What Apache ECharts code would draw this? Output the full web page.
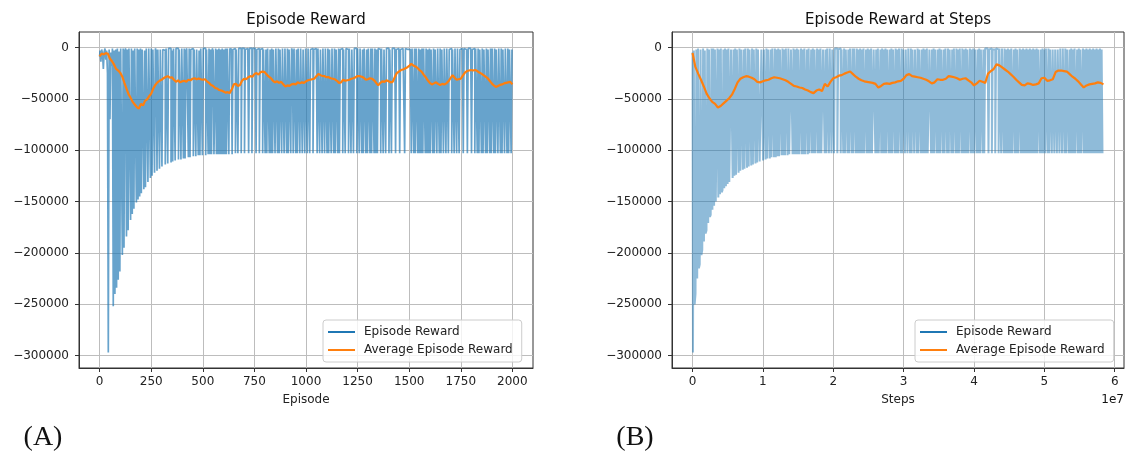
<!DOCTYPE html>
<html>
<head>
<meta charset="utf-8">
<script src="https://cdn.jsdelivr.net/npm/echarts@6/dist/echarts.min.js"></script>
<style>
  html, body { margin: 0; padding: 0; background: #ffffff; }
  #chart { width: 1147px; height: 453px; }
</style>
</head>
<body>
<div id="chart"></div>
<script>
// Rewards are listed in thousands.
const REWARD_UNIT = 1000;
const EPISODES_PER_SAMPLE = 4;       // raw reward samples, panel A
const EPISODES_PER_AVG = 10;         // running average samples, panel A
const STEPS_PER_SAMPLE = 120000;     // raw reward samples, panel B
const STEPS_PER_AVG = 400000;        // running average samples, panel B

const episodeTicks = [0, 250, 500, 750, 1000, 1250, 1500, 1750, 2000];
const stepTicks = [0, 1e7, 2e7, 3e7, 4e7, 5e7, 6e7];
const rewardTicks = [0, -50000, -100000, -150000, -200000, -250000, -300000];

// Episode reward, one value every 4 episodes (0 .. 2000)
const episodeRewards = [
  -9,-3,-14,-2,-6,-21,-4,-1,-12,-3,-25,-297,-2,-70,-5,-18,-1,-252,-3,-240,-2,-234,-1,-226,-4,
  -218,-1,-2,-202,-1,-195,-3,-1,-184,-2,-178,-1,-2,-168,-1,-162,-3,-157,-1,-2,-151,-1,-148,-2,-145,
  -1,-142,-2,-1,-138,-3,-136,-1,-2,-131,-1,-2,-127,-1,-125,-2,-1,-122,-1,-3,-120,-2,-1,-118,-2,
  -1,-116,-2,-1,-3,-114,-1,-2,-113,-1,-2,-1,-112,-3,-111,-1,-2,-110,-1,-2,-1,-109,-2,-1,-109,
  -1,-2,-108,-1,-108,-3,-1,-2,-107,-1,-107,-2,-1,-1,-106,-2,-1,-106,-2,-1,-105,-3,-105,-1,-2,
  -105,-1,-2,-1,-105,-2,-1,-104,-1,-104,-2,-104,-1,-3,-104,-104,-1,-104,-2,-104,-1,-104,-2,-104,-1,
  -104,-2,-104,-1,-104,-1,-2,-104,-1,-3,-1,-104,-2,-1,-1,-103,-2,-1,-103,-1,-2,-1,-103,-1,-2,
  -1,-103,-2,-1,-1,-3,-103,-1,-2,-1,-103,-1,-2,-1,-1,-103,-2,-1,-1,-103,-2,-1,-1,-103,-2,
  -1,-103,-2,-103,-1,-1,-103,-2,-103,-1,-103,-2,-1,-103,-1,-2,-103,-1,-103,-2,-1,-103,-1,-2,-103,
  -1,-2,-103,-1,-103,-2,-1,-103,-1,-3,-103,-1,-1,-103,-2,-103,-1,-2,-103,-1,-1,-103,-2,-1,-103,
  -1,-2,-103,-1,-1,-103,-2,-1,-1,-103,-2,-1,-1,-2,-103,-1,-1,-103,-2,-1,-103,-1,-2,-103,-1,
  -2,-103,-1,-103,-2,-1,-103,-1,-2,-103,-1,-103,-2,-1,-103,-1,-103,-2,-1,-1,-103,-2,-1,-103,-1,
  -1,-2,-103,-1,-1,-103,-2,-1,-103,-1,-2,-1,-103,-1,-2,-103,-1,-1,-103,-2,-103,-1,-1,-103,-2,
  -103,-1,-2,-103,-1,-103,-1,-2,-103,-1,-103,-2,-103,-1,-1,-2,-103,-1,-1,-103,-2,-1,-103,-1,-2,
  -1,-103,-2,-1,-103,-1,-2,-1,-1,-103,-2,-1,-1,-1,-103,-2,-1,-1,-1,-2,-103,-1,-1,-2,-1,
  -1,-2,-1,-103,-1,-2,-103,-1,-103,-1,-2,-103,-1,-103,-2,-103,-1,-103,-1,-2,-103,-1,-103,-2,-103,
  -1,-103,-2,-1,-103,-1,-103,-2,-1,-103,-1,-2,-103,-1,-103,-2,-1,-103,-1,-2,-103,-1,-1,-103,-2,
  -1,-1,-103,-2,-1,-103,-1,-2,-103,-1,-1,-103,-2,-1,-1,-2,-103,-1,-1,-2,-1,-103,-1,-2,-1,
  -1,-103,-2,-1,-1,-103,-1,-2,-103,-1,-103,-2,-1,-103,-1,-103,-2,-1,-103,-1,-103,-2,-1,-103,-1,
  -103,-1,-2,-103,-1,-103,-2,-1,-103,-1,-2,-103,-1,-103,-2,-1,-103,-1,-2,-103,-1,-103,-2,-1,-103,-2
];

// Average episode reward, one value every 10 episodes (0 .. 2000)
const avgEpisodeRewards = [
  -8.8,-6.0,-6.8,-5.6,-6.2,-11.0,-13.5,-16.8,-21.0,-22.5,
  -24.8,-28.5,-34.5,-40.0,-45.5,-49.0,-53.0,-55.5,-58.0,-59.5,
  -55.0,-56.5,-52.0,-50.5,-47.5,-45.0,-40.0,-36.5,-34.0,-32.5,
  -31.5,-30.0,-28.8,-28.0,-29.5,-29.0,-31.5,-33.5,-32.0,-34.0,
  -33.0,-32.5,-33.5,-31.5,-32.0,-30.5,-30.0,-31.0,-30.2,-31.0,
  -31.5,-31.0,-33.0,-34.5,-36.5,-37.5,-39.5,-40.0,-41.5,-42.0,
  -43.0,-44.0,-43.5,-44.5,-41.0,-36.0,-35.5,-37.5,-36.5,-32.5,
  -30.5,-31.0,-29.0,-28.0,-28.5,-26.0,-25.0,-26.5,-24.0,-23.5,
  -24.0,-26.5,-28.5,-30.0,-32.5,-34.0,-33.0,-34.5,-33.5,-36.0,
  -38.0,-37.0,-37.5,-36.0,-35.5,-36.0,-34.0,-35.0,-34.0,-34.5,
  -33.0,-32.0,-31.5,-31.0,-30.5,-28.0,-25.8,-27.0,-27.8,-28.0,
  -29.0,-29.0,-30.0,-30.5,-31.0,-32.5,-34.5,-34.0,-31.5,-32.5,
  -32.0,-31.5,-30.5,-30.0,-29.0,-27.8,-28.0,-28.5,-29.5,-31.5,
  -31.0,-30.0,-30.5,-32.0,-34.5,-37.0,-34.5,-33.0,-33.5,-32.0,
  -33.0,-34.0,-33.5,-29.0,-25.0,-23.5,-22.0,-21.5,-20.5,-19.5,
  -18.0,-16.0,-17.5,-18.5,-20.0,-22.0,-23.5,-26.5,-29.0,-32.0,
  -34.5,-36.0,-35.0,-34.0,-35.5,-36.5,-35.5,-36.0,-35.0,-33.0,
  -30.0,-27.0,-29.5,-31.5,-31.0,-30.5,-27.5,-24.5,-23.0,-22.5,
  -22.0,-22.5,-22.0,-23.0,-24.5,-25.5,-27.0,-28.5,-30.0,-32.5,
  -35.0,-37.0,-38.5,-37.5,-36.5,-36.0,-35.0,-34.5,-34.0,-33.5,
  -36.0
];

// Episode reward against environment steps, one value every 120000 steps
const stepRewards = [
  -5,-297,-3,-250,-240,-2,-225,-1,-215,-211,-2,-202,-197,-1,-189,-3,-181,-178,-1,-171,-2,-165,-163,-1,-158,
  -1,-154,-2,-150,-149,-1,-146,-2,-143,-1,-141,-139,-2,-137,-1,-135,-2,-133,-1,-131,-130,-2,-1,-127,-2,
  -125,-1,-124,-2,-1,-122,-1,-120,-2,-1,-119,-2,-118,-1,-2,-117,-1,-116,-2,-1,-115,-1,-114,-2,-1,
  -113,-1,-112,-2,-1,-111,-110,-2,-1,-110,-2,-1,-109,-1,-108,-2,-1,-108,-2,-107,-1,-2,-107,-1,-107,
  -2,-106,-1,-106,-2,-1,-105,-1,-105,-2,-105,-1,-2,-105,-1,-104,-104,-2,-1,-104,-1,-104,-2,-104,-1,
  -104,-2,-104,-104,-1,-104,-2,-104,-1,-104,-104,-2,-104,-1,-103,-103,-2,-103,-1,-103,-2,-103,-103,-1,-103,
  -2,-103,-1,-103,-103,-2,-1,-103,-2,-103,-1,-2,-103,-1,-1,-103,-2,-1,-103,-1,-2,-1,-103,-2,-1,
  -1,-103,-2,-1,-103,-1,-103,-2,-1,-103,-2,-103,-1,-2,-103,-1,-103,-1,-2,-103,-1,-103,-2,-103,-1,
  -103,-2,-103,-1,-103,-103,-2,-103,-1,-103,-2,-103,-1,-103,-103,-2,-1,-103,-2,-103,-1,-103,-103,-2,-103,
  -1,-103,-2,-103,-1,-103,-2,-1,-103,-2,-103,-1,-103,-2,-1,-103,-1,-103,-2,-103,-1,-2,-103,-1,-103,
  -2,-1,-103,-2,-1,-103,-1,-2,-103,-1,-103,-2,-1,-103,-2,-1,-103,-1,-103,-2,-1,-103,-2,-103,-1,
  -103,-2,-103,-1,-103,-103,-2,-1,-103,-2,-103,-1,-103,-2,-1,-103,-2,-103,-1,-103,-2,-1,-103,-2,-103,
  -1,-2,-103,-1,-103,-2,-1,-103,-2,-103,-1,-2,-103,-1,-103,-2,-103,-1,-2,-103,-1,-103,-2,-103,-1,
  -103,-2,-103,-103,-1,-103,-2,-103,-1,-103,-2,-1,-103,-2,-103,-1,-103,-2,-1,-103,-2,-103,-1,-2,-1,
  -1,-103,-2,-1,-1,-103,-2,-1,-2,-103,-1,-1,-2,-103,-1,-2,-103,-1,-2,-103,-1,-103,-2,-103,-1,
  -103,-2,-103,-1,-103,-103,-2,-103,-1,-103,-2,-103,-103,-1,-103,-2,-103,-1,-103,-2,-103,-1,-103,-2,-103,
  -1,-103,-2,-103,-1,-103,-2,-103,-1,-103,-2,-1,-103,-2,-103,-1,-103,-2,-103,-1,-2,-103,-1,-103,-2,
  -1,-103,-2,-1,-103,-2,-1,-103,-2,-1,-103,-1,-2,-103,-1,-2,-103,-1,-103,-2,-1,-103,-2,-103,-1,
  -103,-2,-103,-1,-103,-103,-2,-103,-1,-103,-2,-103,-103,-1,-103,-2,-103,-1,-103,-2,-103,-1,-103,-2,-103,
  -1,-103,-2,-103,-1,-103,-2,-103,-1,-103,-2,-103
];

// Average episode reward against steps, one value every 400000 steps (0 .. 5.84e7)
const avgStepRewards = [
  -5.5,-19.0,-25.5,-31.5,-38.0,-45.0,-49.5,-53.0,-55.0,-58.5,
  -57.0,-54.5,-52.0,-49.5,-46.0,-40.5,-34.0,-30.5,-29.0,-28.0,
  -28.5,-29.5,-31.0,-33.5,-34.0,-33.0,-32.0,-31.5,-30.0,-29.0,
  -29.5,-30.0,-31.0,-32.0,-33.5,-35.5,-37.5,-38.0,-39.0,-39.5,
  -41.0,-42.0,-43.5,-44.5,-42.0,-41.0,-42.5,-35.5,-38.0,-33.5,
  -30.0,-29.0,-27.5,-27.0,-25.5,-24.5,-23.5,-26.0,-28.5,-30.5,
  -32.0,-33.0,-33.5,-34.0,-34.5,-35.5,-39.0,-37.5,-35.5,-35.0,
  -35.5,-34.5,-34.0,-33.0,-32.5,-30.5,-27.0,-26.0,-28.0,-28.5,
  -29.0,-29.5,-30.5,-31.5,-33.0,-35.0,-34.0,-31.0,-31.5,-31.5,
  -30.5,-28.0,-28.5,-29.0,-30.0,-31.5,-30.5,-30.0,-32.0,-34.0,
  -37.0,-35.0,-32.5,-33.5,-34.5,-25.5,-23.0,-21.0,-16.5,-17.5,
  -19.5,-21.5,-23.5,-26.0,-28.5,-31.5,-34.0,-36.5,-37.0,-35.0,
  -35.5,-36.5,-36.0,-35.0,-30.0,-29.5,-32.5,-32.0,-31.0,-24.0,
  -22.5,-22.5,-23.0,-23.5,-26.0,-28.5,-30.5,-33.0,-36.0,-39.0,
  -37.0,-36.0,-35.5,-35.0,-34.0,-34.5,-36.0
];

const FONT = 'DejaVu Sans';
const BLUE = '#1f77b4';
const ORANGE = '#ff7f0e';
const INK = '#222222';
const SPINE = '#333333';
const GRID_LINE = '#bdbdbd';

const minusSign = v => String(v).replace('-', '\u2212');

function valueAxis(gridIndex, opts) {
  return Object.assign({
    type: 'value',
    gridIndex: gridIndex,
    axisLine: { show: true, onZero: false, lineStyle: { color: SPINE, width: 1 } },
    axisTick: { show: true, length: 4, lineStyle: { color: SPINE, width: 1 } },
    axisLabel: { fontFamily: FONT, fontSize: 12, color: INK },
    splitLine: { show: true, lineStyle: { color: GRID_LINE, width: 1 } },
    nameTextStyle: { fontFamily: FONT, fontSize: 12, color: INK }
  }, opts);
}

function xAxisFor(gridIndex, ticks, min, max, name, fmt) {
  const ax = valueAxis(gridIndex, {
    min: min, max: max, name: name, nameLocation: 'middle', nameGap: 26
  });
  ax.axisTick.customValues = ticks;
  ax.axisLabel = Object.assign({}, ax.axisLabel, { customValues: ticks, margin: 8, formatter: fmt });
  return ax;
}

function yAxisFor(gridIndex) {
  const ax = valueAxis(gridIndex, { min: -312000, max: 15000 });
  ax.axisTick.customValues = rewardTicks;
  ax.axisLabel = Object.assign({}, ax.axisLabel, { customValues: rewardTicks, margin: 10, formatter: v => minusSign(v) });
  return ax;
}

function legendAt(left) {
  return {
    left: left, top: 320, orient: 'vertical',
    icon: 'rect', itemWidth: 27, itemHeight: 2, itemGap: 4,
    padding: [5, 9, 5, 5],
    backgroundColor: 'rgba(255,255,255,0.8)',
    borderColor: '#cccccc', borderWidth: 1, borderRadius: 3,
    selectedMode: false,
    textStyle: { fontFamily: FONT, fontSize: 12, color: INK, lineHeight: 14, padding: [0, 0, 0, 4] },
    data: [
      { name: 'Episode Reward', itemStyle: { color: BLUE, opacity: 1 } },
      { name: 'Average Episode Reward', itemStyle: { color: ORANGE, opacity: 1 } }
    ]
  };
}

const rawA = episodeRewards.map((v, i) => [i * EPISODES_PER_SAMPLE, v * REWARD_UNIT]);
const avgA = avgEpisodeRewards.map((v, i) => [i * EPISODES_PER_AVG, v * REWARD_UNIT]);
const rawB = stepRewards.map((v, i) => [i * STEPS_PER_SAMPLE, v * REWARD_UNIT]);
const avgB = avgStepRewards.map((v, i) => [i * STEPS_PER_AVG, v * REWARD_UNIT]);

function textItem(text, x, y, font, align) {
  return {
    type: 'text', x: x, y: y, silent: true,
    style: { text: text, font: font, fill: '#111111', align: align || 'center', verticalAlign: 'middle' }
  };
}

const chart = echarts.init(document.getElementById('chart'), null, { renderer: 'canvas' });
chart.setOption({
  animation: false,
  backgroundColor: '#ffffff',
  grid: [
    { left: 79, right: 614, top: 32, bottom: 85, show: true, borderColor: SPINE, borderWidth: 1, outerBoundsMode: 'none' },
    { left: 672, right: 23, top: 32, bottom: 85, show: true, borderColor: SPINE, borderWidth: 1, outerBoundsMode: 'none' }
  ],
  xAxis: [
    xAxisFor(0, episodeTicks, -100, 2100, 'Episode', v => String(v)),
    xAxisFor(1, stepTicks, -2920000, 61320000, 'Steps', v => String(Math.round(v / 1e7)))
  ],
  yAxis: [yAxisFor(0), yAxisFor(1)],
  legend: [legendAt(323), legendAt(915)],
  graphic: [
    textItem('Episode Reward', 306, 20, '15px "DejaVu Sans"'),
    textItem('Episode Reward at Steps', 898, 20, '15px "DejaVu Sans"'),
    textItem('1e7', 1124, 400, '12px "DejaVu Sans"', 'right'),
    textItem('(A)', 43, 438, '28px "Liberation Serif"'),
    textItem('(B)', 635, 438, '28px "Liberation Serif"')
  ],
  series: [
    {
      name: 'Episode Reward', type: 'line', xAxisIndex: 0, yAxisIndex: 0,
      data: rawA, symbol: 'none', silent: true, z: 2, step: 'middle',
      itemStyle: { color: BLUE },
      lineStyle: { color: BLUE, width: 1.7, opacity: 0.68 }
    },
    {
      name: 'Average Episode Reward', type: 'line', xAxisIndex: 0, yAxisIndex: 0,
      data: avgA, symbol: 'none', silent: true, z: 3,
      itemStyle: { color: ORANGE },
      lineStyle: { color: ORANGE, width: 2.2 }
    },
    {
      name: 'Episode Reward', type: 'line', xAxisIndex: 1, yAxisIndex: 1,
      data: rawB, symbol: 'none', silent: true, z: 2, step: 'middle',
      itemStyle: { color: BLUE },
      lineStyle: { color: BLUE, width: 2, opacity: 0.5 }
    },
    {
      name: 'Average Episode Reward', type: 'line', xAxisIndex: 1, yAxisIndex: 1,
      data: avgB, symbol: 'none', silent: true, z: 3,
      itemStyle: { color: ORANGE },
      lineStyle: { color: ORANGE, width: 2.2 }
    }
  ]
});
</script>
</body>
</html>
